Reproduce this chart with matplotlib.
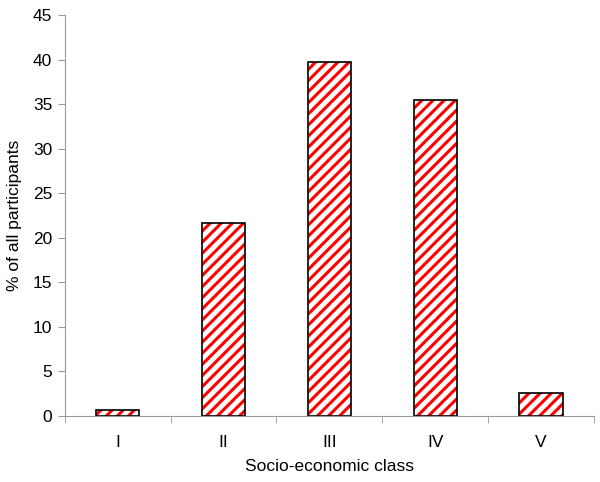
import numpy as np
import matplotlib
matplotlib.use("Agg")
from matplotlib import pyplot as plt

# data
classes = ["I", "II", "III", "IV", "V"]
percent = [0.7, 21.6, 39.7, 35.4, 2.6]

plt.rcParams['font.family'] = ['Liberation Sans', 'DejaVu Sans']
plt.rcParams['hatch.linewidth'] = 2.2

fig = plt.figure(figsize=(6.0, 4.82), dpi=100)
ax = fig.add_axes([0.108, 0.137, 0.882, 0.832])

x = np.arange(len(classes))
# hatched fill, then black outline on top
ax.bar(x, percent, width=0.41, color="white", edgecolor="#ff0000",
       hatch="///", linewidth=0)
ax.bar(x, percent, width=0.41, color="none", edgecolor="black", linewidth=1.2)

ax.set_xlim(-0.5, len(classes) - 0.5)
ax.set_ylim(0, 45)
ax.set_yticks(np.arange(0, 46, 5))
ax.set_xticks(x)
ax.set_xticklabels(classes)
ax.set_xticks(np.arange(-0.5, len(classes), 1), minor=True)
ax.tick_params(axis="x", which="major", length=0, pad=14, labelsize=12.5)
ax.tick_params(axis="x", which="minor", length=5, color="#999999", direction="out")
ax.tick_params(axis="y", length=5, color="#999999", labelsize=12.5, pad=4)

for side in ["top", "right"]:
    ax.spines[side].set_visible(False)
for side in ["left", "bottom"]:
    ax.spines[side].set_color("#999999")

ax.set_xlabel("Socio-economic class", fontsize=12.5, labelpad=6)
ax.set_ylabel("% of all participants", fontsize=12.5, labelpad=8)

fig.savefig("out.png", dpi=100)
